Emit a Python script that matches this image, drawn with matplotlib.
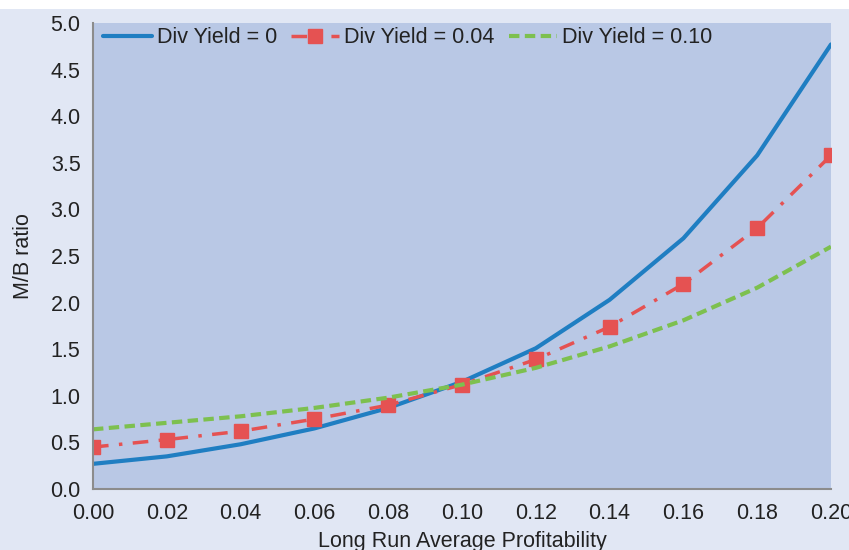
import matplotlib
matplotlib.use("Agg")
import matplotlib.pyplot as plt
from matplotlib.patches import Rectangle

plt.rcParams['font.family'] = ['Liberation Sans', 'DejaVu Sans']

profitability = [0.00, 0.02, 0.04, 0.06, 0.08, 0.10, 0.12, 0.14, 0.16, 0.18, 0.20]
div0 = [0.27, 0.35, 0.48, 0.65, 0.87, 1.15, 1.51, 2.03, 2.69, 3.58, 4.77]
div004 = [0.45, 0.53, 0.62, 0.75, 0.90, 1.12, 1.39, 1.74, 2.20, 2.80, 3.58]
div010 = [0.64, 0.71, 0.78, 0.87, 0.98, 1.12, 1.30, 1.53, 1.81, 2.16, 2.60]
labels = ["Div Yield = 0", "Div Yield = 0.04", "Div Yield = 0.10"]

FS = 15.5
TXT = '#222222'

fig = plt.figure(figsize=(8.49, 5.5), dpi=100, facecolor='white')
fig.patches.append(Rectangle((0, 0), 1, 1 - 9/550, transform=fig.transFigure,
                             facecolor='#E1E7F4', edgecolor='none', zorder=-10))
ax = fig.add_axes([93/849, 1 - 489/550, (831 - 93)/849, (489 - 23)/550])
ax.set_facecolor('#B9C8E5')

ax.plot(profitability, div0, color='#1F7EC2', lw=3, solid_capstyle='round', label=labels[0])
ax.plot(profitability, div004, color='#E55252', lw=2.5, dashes=(4.5, 3, 1, 3),
        marker='s', markersize=10.5, label=labels[1])
ax.plot(profitability, div010, color='#7DC04F', lw=3, dashes=(2.5, 1.3), label=labels[2])

ax.set_xlim(0, 0.20)
ax.set_ylim(0, 5.0)
ax.set_xticks(profitability)
ax.set_xticklabels([f"{v:.2f}" for v in profitability])
ax.set_yticks([i * 0.5 for i in range(11)])
ax.set_yticklabels([f"{i*0.5:.1f}" for i in range(11)])
ax.tick_params(axis='both', length=0, labelsize=FS, colors=TXT)
ax.tick_params(axis='x', pad=10)
ax.tick_params(axis='y', pad=9)
for s in ['top', 'right']:
    ax.spines[s].set_visible(False)
for s in ['left', 'bottom']:
    ax.spines[s].set_color('#8C8C8C')
    ax.spines[s].set_linewidth(1.5)

ax.set_ylabel("M/B ratio", fontsize=FS, color=TXT, labelpad=12)
ax.set_xlabel("Long Run Average Profitability", fontsize=FS, color=TXT, labelpad=5)

leg = ax.legend(loc='upper left', ncol=3, frameon=False, fontsize=FS, handlelength=2.25,
                handletextpad=0.23, columnspacing=0.65, borderaxespad=0.0, borderpad=0.2,
                bbox_to_anchor=(0.008, 1.0))
for t in leg.get_texts():
    t.set_color(TXT)

fig.savefig("out.png", dpi=100, facecolor=fig.get_facecolor())
